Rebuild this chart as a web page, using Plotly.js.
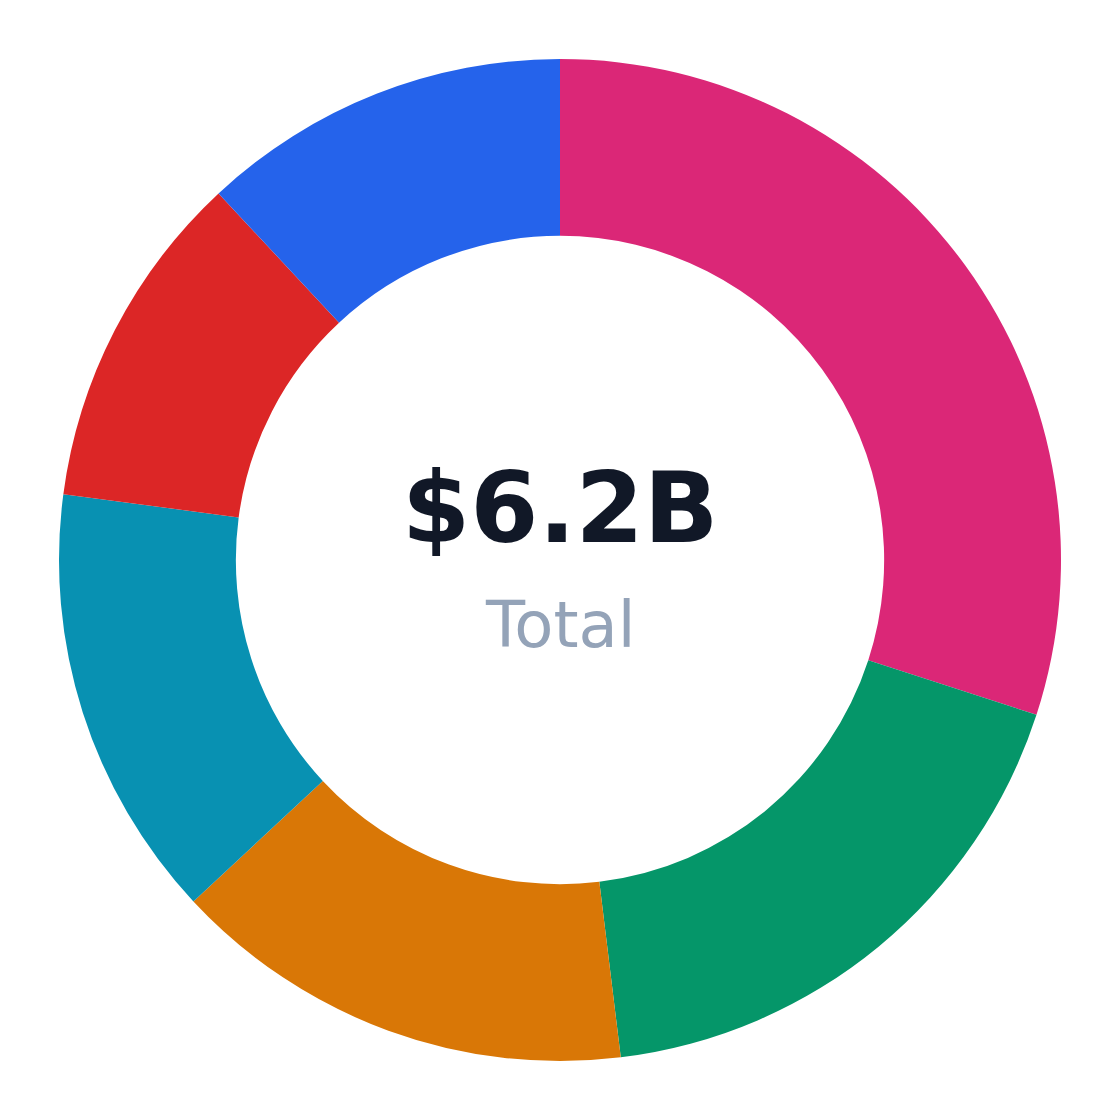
<!DOCTYPE html>
<html>
<head>
<meta charset="utf-8">
<script src="https://cdn.plot.ly/plotly-3.0.1.min.js"></script>
<style>
  html, body { margin: 0; padding: 0; background: #ffffff; }
  #donut-plot { width: 1120px; height: 1120px; }
</style>
</head>
<body>
<div id="donut-plot"></div>
<script>
// Segment values in $B, clockwise from 12 o'clock
var segmentLabels = ['Segment 1', 'Segment 2', 'Segment 3', 'Segment 4', 'Segment 5', 'Segment 6'];
var segmentValues = [1.86, 1.12, 0.93, 0.87, 0.68, 0.74];
var segmentColors = ['#db2777', '#059669', '#d97706', '#0891b2', '#dc2626', '#2563eb'];
var centerValue = '$6.2B';
var centerLabel = 'Total';

function init_donut_plot( ){
    var trace1 = {
      labels: segmentLabels,
      values: segmentValues,
      type: 'pie',
      hole: 0.647,
      sort: false,
      direction: 'clockwise',
      rotation: 0,
      textinfo: 'none',
      marker: {
          colors: segmentColors,
          line: { width: 0 }
      },
      hovertemplate: '%{label}: $%{value}B<extra></extra>'
    };

    var data = [trace1];

    var layout = {
        showlegend: false,
        width: 1120,
        height: 1120,
        paper_bgcolor: '#ffffff',
        margin: {
            l: 59,
            r: 59,
            b: 59,
            t: 59
        },
        annotations: [
            {
                text: '<b>' + centerValue + '</b>',
                x: 0.5, y: 0.5,
                xref: 'paper', yref: 'paper',
                xanchor: 'center', yanchor: 'bottom',
                yshift: -7,
                showarrow: false,
                font: { family: 'DejaVu Sans', size: 98, color: '#111827' }
            },
            {
                text: centerLabel,
                x: 0.5, y: 0.5,
                xref: 'paper', yref: 'paper',
                xanchor: 'center', yanchor: 'top',
                yshift: -26,
                showarrow: false,
                font: { family: 'DejaVu Sans', size: 64, color: '#94a3b8' }
            }
        ]
    };

    var additional_param = {
        displaylogo: false,
        displayModeBar: false
    };

    Plotly.newPlot('donut-plot', data, layout, additional_param);
};

init_donut_plot();
</script>
</body>
</html>
